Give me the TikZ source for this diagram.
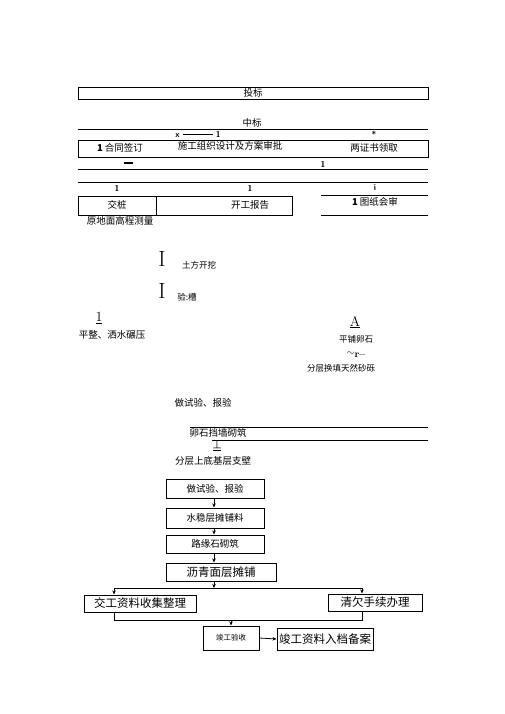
\documentclass[tikz,border=0pt]{standalone}
\usepackage{fontspec}
\newfontfamily\cjk{Noto Sans CJK SC}
\usetikzlibrary{arrows.meta}
\tikzset{
  txt/.style={inner sep=0pt, font=\cjk\fontsize{9.5}{11}\selectfont},
  smalltxt/.style={inner sep=0pt, font=\cjk\fontsize{8.5}{10}\selectfont},
  marktxt/.style={inner sep=0pt, font=\sffamily\bfseries\fontsize{8.5}{9}\selectfont},
  bigmark/.style={inner sep=0pt, font=\fontsize{22}{22}\selectfont},
  flowbox/.style={draw, line width=1pt, inner sep=0pt, font=\cjk\fontsize{9.5}{11}\selectfont},
  bigbox/.style={flowbox, font=\cjk\fontsize{11.5}{13}\selectfont},
  flowarrow/.style={-{Stealth[length=4pt,width=3.5pt]}, line width=0.8pt}
}

\begin{document}
\begin{tikzpicture}[x=1pt, y=-1pt, line width=0.8pt]
\useasboundingbox (0,0) rectangle (505,714);

% bid, award
\node[txt, draw, minimum width=350pt, minimum height=12pt] (toubiao) at (253,93) {投标};
\node[txt] (zhongbiao) at (252,123) {中标};
\draw[black] (78,129) -- (428,129);
\node[marktxt] (xmark) at (198,134) {x \rule[2pt]{30pt}{0.8pt} 1};
\node[marktxt] (star) at (374,134) {*};
\draw[black] (78,140) rectangle (428,157);
\node[txt] (hetong) at (120,148) {\textbf{1} 合同签订};
\node[txt] (shigong) at (230,146) {施工组织设计及方案审批};
\node[txt] (liangzheng) at (374,148) {两证书领取};
\node[marktxt] (dash) at (128,164) {\rule[2pt]{9pt}{1.6pt}};
\node[marktxt] (one) at (323,164) {1};
\draw[black] (78,169) -- (428,169);

% handover row
\draw[black] (78,182) -- (428,182);
\node[marktxt] (oneA) at (117,188) {1};
\node[marktxt] (oneB) at (250,188) {1};
\node[marktxt] (iota) at (375,188) {i};
\draw[black] (78,196) rectangle (292,215);
\draw[black] (156,196) -- (156,215);
\node[txt] (jiaozhuang) at (117,205) {交桩};
\node[txt] (kaigong) at (250,205) {开工报告};
\draw[black] (321,195) -- (428,195);
\draw[black] (321,215) -- (428,215);
\node[txt] (tuzhi) at (375,202) {\textbf{1} 图纸会审};
\node[txt] (yuandimian) at (120,221) {原地面高程测量};

% earthwork
\node[bigmark] (barA) at (162,259) {I};
\node[smalltxt] (tufang) at (199,265) {土方开挖};
\node[bigmark] (barB) at (162,291) {I};
\node[smalltxt] (yancao) at (187,297) {验:槽};
\node[bigmark, font=\fontsize{14}{14}\selectfont] (oneC) at (99,318) {\underline{1}};
\node[txt] (pingzheng) at (112,335) {平整、洒水碾压};
\node[bigmark, font=\fontsize{14}{14}\selectfont] (aMark) at (355,322) {\underline{A}};
\node[smalltxt] (pingpu) at (356,339) {平铺卵石};
\node[marktxt, font=\bfseries\fontsize{10}{10}\selectfont] (wave) at (356,355) {$\sim$\raisebox{-2pt}{r--}};
\node[smalltxt] (fenceng) at (341,368) {分层换填天然砂砾};

% retaining wall
\node[txt] (shiyanA) at (203,403) {做试验、报验};
\draw[black] (190,427) -- (428,427);
\node[txt] (luanshi) at (218,433) {卵石挡墙砌筑};
\draw[black] (212,440) -- (428,440);
\node[smalltxt] (upmark) at (217,446) {\underline{丄}};
\node[txt] (dijiceng) at (213,461) {分层上底基层支壁};

% flow chart
\node[flowbox, minimum width=98pt, minimum height=19pt] (b1) at (215,488.5) {做试验、报验};
\node[flowbox, minimum width=98pt, minimum height=20pt] (b2) at (215,518) {水稳层摊铺料};
\node[flowbox, minimum width=98pt, minimum height=18pt] (b3) at (215,544) {路缘石砌筑};
\node[bigbox, minimum width=110pt, minimum height=18pt] (b4) at (221,572) {沥青面层摊铺};
\node[bigbox, minimum width=112pt, minimum height=17pt] (b5) at (140,603.5) {交工资料收集整理};
\node[bigbox, minimum width=94pt, minimum height=17pt] (b6) at (375,602.5) {清欠手续办理};
\node[flowbox, font=\cjk\fontsize{7.5}{9}\selectfont, minimum width=56pt, minimum height=24pt] (b7) at (231,638) {竣工验收};
\node[bigbox, minimum width=96pt, minimum height=22pt] (b8) at (325,639) {竣工资料入档备案};

\coordinate (busM) at (214,588);
\coordinate (busL) at (114,588);
\coordinate (busR) at (362,588);
\coordinate (joinL) at (114,620);
\coordinate (joinR) at (362,620);
\coordinate (joinM) at (231,620);

\draw[flowarrow] (b1.south -| busM) -- (b2.north -| busM);
\draw[flowarrow] (b2.south -| busM) -- (b3.north -| busM);
\draw[flowarrow] (b3.south -| busM) -- (b4.north -| busM);
\draw[flowarrow] (b4.south -| busM) -- (busM);
\draw (busL) -- (busR);
\draw[flowarrow] (busL) -- (b5.north -| busL);
\draw[flowarrow] (busR) -- (b6.north -| busR);
\draw (b5.south -| joinL) -- (joinL) -- (joinR) -- (b6.south -| joinR);
\draw[flowarrow] (joinM) -- (b7.north);
\draw[flowarrow] (b7.east) -- (b8.west);
\end{tikzpicture}
\end{document}
